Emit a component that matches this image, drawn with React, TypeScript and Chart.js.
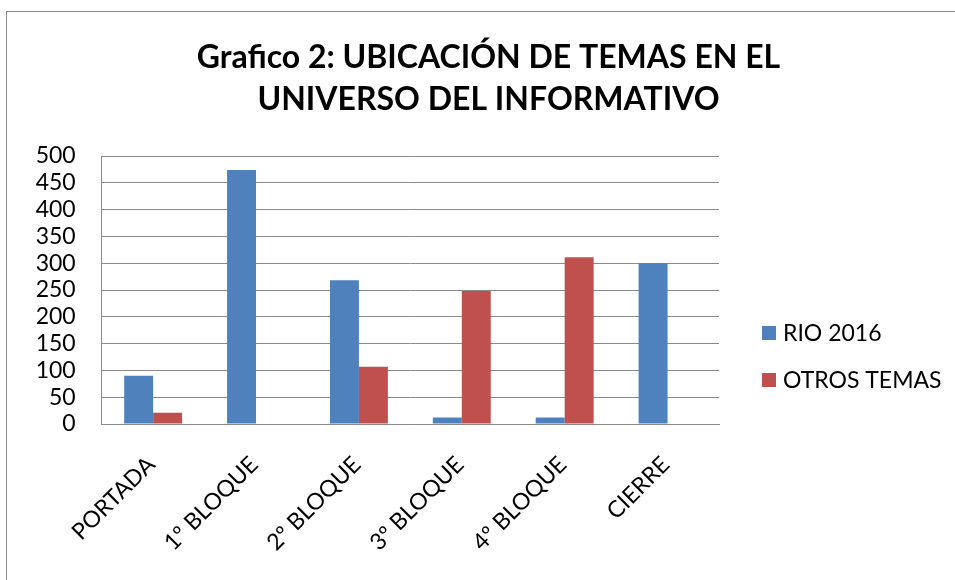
import React, { useEffect, useRef } from "react";
import { Chart, registerables } from "chart.js";

Chart.register(...registerables);

const categories = ["PORTADA", "1º BLOQUE", "2º BLOQUE", "3º BLOQUE", "4º BLOQUE", "CIERRE"];
const rio2016 = [90, 474, 268, 12, 12, 300];
const otrosTemas = [21, 0, 107, 248, 311, 0];
const seriesNames = ["RIO 2016", "OTROS TEMAS"];
const seriesColors = ["#4F81BD", "#C0504D"];
const titleLines = ["Grafico 2: UBICACIÓN DE TEMAS EN EL", "UNIVERSO DEL INFORMATIVO"];
const yMin = 0;
const yMax = 500;
const yStep = 50;

const FONT = "Lato, 'Open Sans', sans-serif";
const GRID = "#8a8a8a";

const framePlugin = {
  id: "frame",
  beforeDraw(chart: any) {
    const ctx = chart.ctx;
    ctx.save();
    ctx.fillStyle = "#ffffff";
    ctx.fillRect(0, 0, chart.width, chart.height);
    ctx.strokeStyle = GRID;
    ctx.lineWidth = 1;
    ctx.strokeRect(6.5, 11.5, chart.width + 20, chart.height + 20);
    ctx.restore();
  },
};

const titlePlugin = {
  id: "customTitle",
  afterDraw(chart: any) {
    const ctx = chart.ctx;
    ctx.save();
    ctx.fillStyle = "#000000";
    ctx.font = `bold 32px ${FONT}`;
    ctx.textAlign = "center";
    ctx.textBaseline = "alphabetic";
    const cx = 488.5;
    titleLines.forEach((line, i) => {
      ctx.fillText(line, cx, 68 + i * 42);
    });
    ctx.restore();
  },
};

const legendPlugin = {
  id: "customLegend",
  afterDraw(chart: any) {
    const ctx = chart.ctx;
    const area = chart.chartArea;
    ctx.save();
    ctx.font = `23px ${FONT}`;
    ctx.textAlign = "left";
    ctx.textBaseline = "middle";
    chart.data.datasets.forEach((ds: any, i: number) => {
      const cy = 333 + i * 47;
      const x = area.right + 43;
      ctx.fillStyle = ds.backgroundColor;
      ctx.fillRect(x, cy - 7, 14, 14);
      ctx.fillStyle = "#000000";
      ctx.fillText(ds.label, x + 21, cy + 1);
    });
    ctx.restore();
  },
};

export default function App() {
  const ref = useRef<HTMLCanvasElement | null>(null);

  useEffect(() => {
    if (!ref.current) return;
    const chart = new Chart(ref.current, {
      type: "bar",
      data: {
        labels: categories,
        datasets: [
          { label: seriesNames[0], data: rio2016, backgroundColor: seriesColors[0], borderWidth: 0 },
          { label: seriesNames[1], data: otrosTemas, backgroundColor: seriesColors[1], borderWidth: 0 },
        ],
      },
      options: {
        animation: false,
        responsive: false,
        maintainAspectRatio: false,
        layout: { padding: { left: 22, top: 156, right: 236, bottom: 0 } },
        datasets: { bar: { categoryPercentage: 0.563, barPercentage: 1 } },
        plugins: {
          legend: { display: false },
          title: { display: false },
          tooltip: { enabled: false },
        },
        scales: {
          x: {
            grid: { display: false, drawTicks: false },
            border: { display: true, color: GRID, width: 1 },
            ticks: {
              color: "#000000",
              font: { family: FONT, size: 23 },
              minRotation: 45,
              maxRotation: 45,
              padding: 27,
              labelOffset: -2,
              autoSkip: false,
            },
            afterFit(scale: any) {
              scale.height = 156;
            },
          },
          y: {
            min: yMin,
            max: yMax,
            grid: { color: GRID, lineWidth: 1, drawTicks: false },
            border: { display: true, color: GRID, width: 1 },
            ticks: {
              stepSize: yStep,
              autoSkip: false,
              color: "#000000",
              font: { family: FONT, size: 23 },
              padding: 26,
            },
            afterFit(scale: any) {
              scale.width = 79.7;
            },
          },
        },
      },
      plugins: [framePlugin, titlePlugin, legendPlugin],
    });
    return () => chart.destroy();
  }, []);

  return (
    <div style={{ position: "fixed", left: 0, top: 0, width: 955, height: 580, background: "#fff" }}>
      <canvas ref={ref} width={955} height={580} style={{ display: "block" }} />
    </div>
  );
}
